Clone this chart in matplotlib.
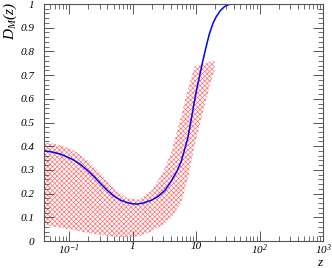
import numpy as np
import matplotlib
matplotlib.use('Agg')
import matplotlib.pyplot as plt
from matplotlib.ticker import FixedLocator, NullFormatter

plt.rcParams['font.family'] = 'Liberation Serif'
plt.rcParams['font.style'] = 'italic'
plt.rcParams['mathtext.fontset'] = 'custom'
plt.rcParams['mathtext.rm'] = 'Liberation Serif:italic'
plt.rcParams['mathtext.it'] = 'Liberation Serif:italic'
plt.rcParams['hatch.linewidth'] = 0.45

# central curve D_M(z)
z_line = [0.04, 0.055, 0.072, 0.09, 0.117, 0.15, 0.19, 0.245, 0.31, 0.4, 0.5, 0.65,
          0.82, 1.0, 1.2, 1.5, 2.0, 2.5, 3.2, 4.0, 5.0, 5.8, 6.5, 7.4, 8.4, 9.4,
          10.3, 11.3, 12.5, 13.8, 15.0, 16.3, 18.5, 20.7, 24, 28, 32, 36, 100, 1000]
d_line = [0.381, 0.375, 0.367, 0.356, 0.342, 0.323, 0.30, 0.272, 0.243, 0.213, 0.19,
          0.172, 0.162, 0.157, 0.156, 0.161, 0.173, 0.188, 0.213, 0.25, 0.295, 0.335,
          0.38, 0.435, 0.515, 0.59, 0.645, 0.695, 0.75, 0.80, 0.84, 0.877, 0.92, 0.946,
          0.972, 0.989, 0.997, 1.0, 1.0, 1.0]

# uncertainty band
z_band = [0.041, 0.072, 0.117, 0.191, 0.31, 0.505, 0.824, 1.245, 1.93, 2.96, 4.01,
          5.78, 7.38, 9.4, 13.5, 16.5, 19.5]
band_hi = [0.416, 0.405, 0.384, 0.342, 0.286, 0.222, 0.18, 0.175, 0.21, 0.286, 0.37,
           0.524, 0.637, 0.736, 0.75, 0.756, 0.762]
band_lo = [0.0675, 0.056, 0.046, 0.035, 0.025, 0.018, 0.016, 0.02, 0.039, 0.067, 0.096,
           0.16, 0.26, 0.40, 0.567, 0.66, 0.72]

xticks = [0.1, 1, 10, 100, 1000]
xlabels = ['$10^{-1}$', '1', '10', '$10^{2}$', '$10^{3}$']
yticks = [0, 0.1, 0.2, 0.3, 0.4, 0.5, 0.6, 0.7, 0.8, 0.9, 1]
ylabels = ['0', '0.1', '0.2', '0.3', '0.4', '0.5', '0.6', '0.7', '0.8', '0.9', '1']

fig = plt.figure(figsize=(3.32, 2.68), dpi=100)
ax = fig.add_axes([0.1325, 0.1007, 0.8405, 0.8843])

ax.fill_between(z_band, band_lo, band_hi, facecolor='none', edgecolor=(1, 0.4, 0.4),
                hatch='xxxxxxx', linewidth=0)
ax.plot(z_line, d_line, color='blue', lw=1.1)

ax.set_xscale('log')
ax.set_xlim(0.04, 1000)
ax.set_ylim(0, 1)

ax.xaxis.set_major_locator(FixedLocator(xticks))
ax.set_xticklabels(xlabels)
minors = [m * 10.0 ** e for e in range(-2, 3) for m in range(2, 10)]
ax.xaxis.set_minor_locator(FixedLocator([v for v in minors if 0.04 <= v <= 1000]))
ax.xaxis.set_minor_formatter(NullFormatter())
ax.yaxis.set_major_locator(FixedLocator(yticks))
ax.set_yticklabels(ylabels)
ax.yaxis.set_minor_locator(FixedLocator(np.arange(0, 1.001, 0.02)))

for s in ax.spines.values():
    s.set_color('#555555')
    s.set_linewidth(0.8)
ax.tick_params(which='both', direction='in', top=True, right=True, colors='#555555',
               labelcolor='black', labelsize=8)
ax.tick_params(which='major', length=7, width=0.7)
ax.tick_params(which='minor', length=3.5, width=0.6)
ax.tick_params(axis='y', pad=7)
ax.tick_params(axis='x', pad=1)

fig.text(10 / 332, 1 - 2 / 268, '$D_M(z)$', rotation=90, ha='center', va='top', fontsize=11)
fig.text(320 / 332, 1 - 266 / 268, 'z', ha='center', va='baseline', fontsize=9.5)

fig.savefig('out.png', dpi=100)
